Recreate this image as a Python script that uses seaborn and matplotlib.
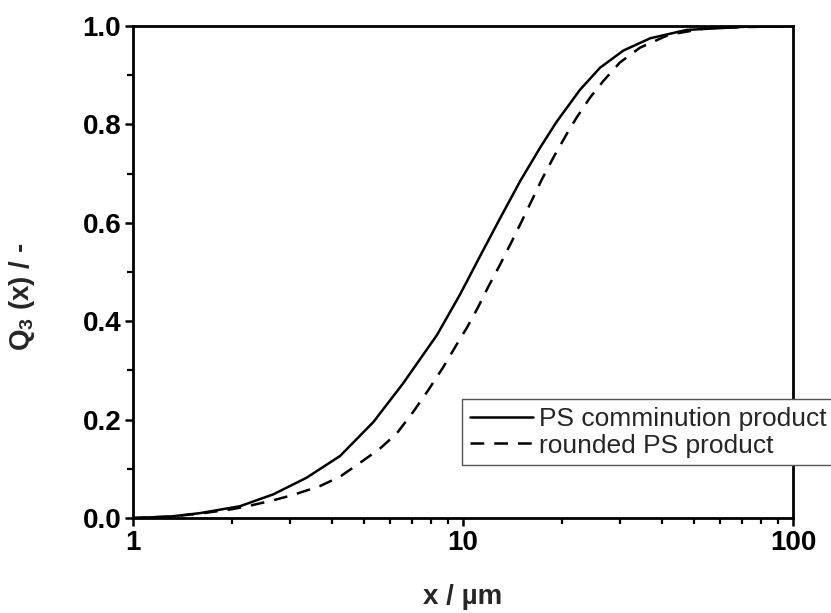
import matplotlib
matplotlib.use("Agg")
import matplotlib.pyplot as plt
import seaborn as sns
import pandas as pd
from matplotlib.ticker import FixedLocator, NullFormatter, FixedFormatter

# ---- data ----
comm_x = [1.0, 1.3, 1.6, 2.11, 2.66, 3.36, 4.24, 5.35, 6.59, 8.34, 9.79, 11.26, 12.95,
          14.88, 17.1, 19.2, 22.6, 26.0, 30.6, 36.9, 47.6, 74.0, 100.0]
comm_y = [0.0, 0.003, 0.010, 0.024, 0.048, 0.082, 0.126, 0.195, 0.274, 0.372, 0.454, 0.532, 0.609,
          0.684, 0.752, 0.805, 0.870, 0.915, 0.950, 0.975, 0.992, 0.999, 1.0]

round_x = [1.0, 1.3, 1.6, 2.0, 2.26, 2.66, 3.06, 3.69, 4.24, 4.87, 5.60, 6.30, 7.07, 7.85, 8.70,
           9.46, 10.28, 11.10, 11.93, 12.95, 14.03, 15.06, 16.15, 17.3, 18.8, 20.6, 22.1, 24.3,
           26.6, 29.9, 34.4, 42.0, 55.0, 100.0]
round_y = [0.0, 0.003, 0.009, 0.018, 0.025, 0.036, 0.047, 0.065, 0.084, 0.112, 0.141, 0.172, 0.216,
           0.260, 0.306, 0.347, 0.387, 0.428, 0.470, 0.515, 0.561, 0.603, 0.645, 0.687, 0.733,
           0.780, 0.814, 0.855, 0.888, 0.926, 0.956, 0.982, 0.996, 1.0]

series_names = ["PS comminution product", "rounded PS product"]
x_ticks = [1, 10, 100]
x_ticklabels = ["1", "10", "100"]
y_ticks = [0.0, 0.2, 0.4, 0.6, 0.8, 1.0]
y_ticklabels = ["0.0", "0.2", "0.4", "0.6", "0.8", "1.0"]

df_comm = pd.DataFrame({"x": comm_x, "Q3": comm_y})
df_round = pd.DataFrame({"x": round_x, "Q3": round_y})

sns.set_theme(style="ticks")
plt.rcParams["font.family"] = ["Liberation Sans", "DejaVu Sans"]
plt.rcParams["mathtext.fontset"] = "custom"
plt.rcParams["mathtext.rm"] = "Liberation Sans"
plt.rcParams["mathtext.bf"] = "Liberation Sans:bold"

fig = plt.figure(figsize=(8.31, 6.13), dpi=100)
ax = fig.add_axes([133 / 831, 1 - 518 / 613, (793 - 133) / 831, (518 - 26) / 613])

sns.lineplot(data=df_comm, x="x", y="Q3", ax=ax, color="black", lw=1.8,
             label=series_names[0], estimator=None, sort=True)
sns.lineplot(data=df_round, x="x", y="Q3", ax=ax, color="black", lw=1.8,
             linestyle=(0, (5.5, 4.0)), label=series_names[1], estimator=None, sort=True)

ax.set_xscale("log")
ax.set_xlim(1, 100)
ax.set_ylim(0, 1)

ax.xaxis.set_major_locator(FixedLocator(x_ticks))
ax.xaxis.set_major_formatter(FixedFormatter(x_ticklabels))
minor_x = [m * d for d in (1, 10) for m in range(2, 10)]
ax.xaxis.set_minor_locator(FixedLocator(minor_x))
ax.xaxis.set_minor_formatter(NullFormatter())

ax.yaxis.set_major_locator(FixedLocator(y_ticks))
ax.yaxis.set_major_formatter(FixedFormatter(y_ticklabels))
ax.yaxis.set_minor_locator(FixedLocator([0.1, 0.3, 0.5, 0.7, 0.9]))

for s in ax.spines.values():
    s.set_visible(True)
    s.set_linewidth(2.0)
    s.set_color("black")

ax.tick_params(which="major", direction="out", length=6, width=1.8, colors="black",
               labelsize=20, pad=2.5, top=False, right=False)
ax.tick_params(which="minor", direction="out", length=4, width=1.6, colors="black",
               top=False, right=False)
for lab in ax.get_xticklabels() + ax.get_yticklabels():
    lab.set_fontweight("bold")

ax.set_xlabel("x / µm", fontsize=20, fontweight="bold", va="center")
ax.set_ylabel(r"Q$_\mathbf{3}$ (x) / -", fontsize=20, fontweight="bold", va="center")
ax.xaxis.set_label_coords((463 - 133) / 660, (518 - 597) / 492)
ax.yaxis.set_label_coords((22 - 133) / 660, (518 - 297) / 492)

leg = ax.legend(loc="upper left", bbox_to_anchor=(462 / 831, 1 - 399 / 613),
                bbox_transform=fig.transFigure, borderaxespad=0, fontsize=19,
                frameon=True, fancybox=False, framealpha=1, edgecolor="#555555",
                handlelength=2.4, handletextpad=0.2, borderpad=0.3, labelspacing=0.1)
leg.get_frame().set_linewidth(1.0)

fig.savefig("out.png", dpi=100)
